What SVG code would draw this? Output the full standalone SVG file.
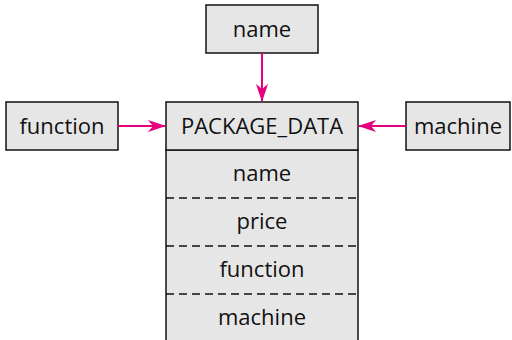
<svg xmlns="http://www.w3.org/2000/svg" width="512" height="340" viewBox="0 0 512 340">
<style>
.box{fill:#e6e6e6;stroke:#111;stroke-width:1.5}
.t{font-family:"Open Sans","Noto Sans",sans-serif;font-size:22px;fill:#111;text-anchor:middle}
.c{stroke:#e6007e;stroke-width:2;fill:none}
.d{stroke:#111;stroke-width:1.5;stroke-dasharray:8,5}
</style>
<defs>
<marker id="ah" viewBox="0 0 18 12" refX="17" refY="6" markerWidth="18" markerHeight="12" markerUnits="userSpaceOnUse" orient="auto">
<path d="M0,0 L18,6 L0,12 L5,6 Z" fill="#e6007e"/>
</marker>
</defs>
<g id="node-name">
<rect class="box" x="206" y="5" width="112" height="48"/>
<text class="t" x="262" y="37">name</text>
</g>
<g id="node-function">
<rect class="box" x="6" y="102" width="112" height="48"/>
<text class="t" x="62" y="134">function</text>
</g>
<g id="node-machine">
<rect class="box" x="406" y="102" width="104" height="48"/>
<text class="t" x="458" y="134">machine</text>
</g>
<g id="node-package">
<rect class="box" x="166" y="150" width="192" height="200"/>
<rect class="box" x="166" y="102" width="192" height="48"/>
<text class="t" x="262" y="134">PACKAGE_DATA</text>
<line class="d" x1="166" y1="198" x2="358" y2="198"/>
<line class="d" x1="166" y1="246" x2="358" y2="246"/>
<line class="d" x1="166" y1="294" x2="358" y2="294"/>
<text class="t" x="262" y="181">name</text>
<text class="t" x="262" y="229">price</text>
<text class="t" x="262" y="277">function</text>
<text class="t" x="262" y="325">machine</text>
</g>
<g id="connectors">
<line class="c" x1="262" y1="53" x2="262" y2="101" marker-end="url(#ah)"/>
<line class="c" x1="118" y1="126" x2="165" y2="126" marker-end="url(#ah)"/>
<line class="c" x1="406" y1="126" x2="359" y2="126" marker-end="url(#ah)"/>
</g>
</svg>
